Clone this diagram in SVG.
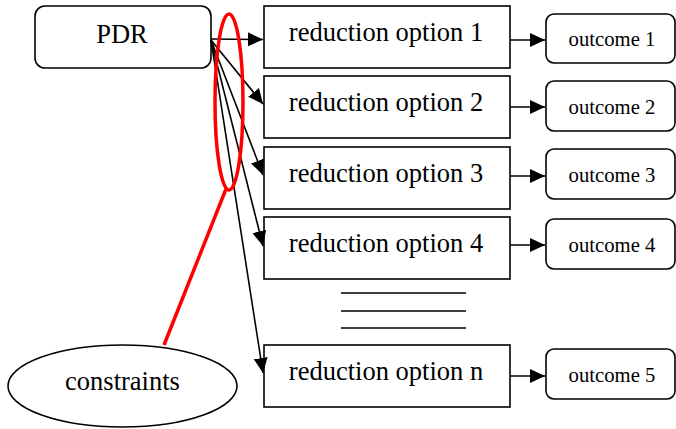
<svg xmlns="http://www.w3.org/2000/svg" width="676" height="429" viewBox="0 0 676 429">
<style>
.box{fill:#fff;stroke:#000;stroke-width:1.6}
text{font-family:'Liberation Serif','Times New Roman',Times,'DejaVu Serif',serif;fill:#000;text-anchor:middle}
.big{font-size:26.5px}
.small{font-size:20.7px}
.con{stroke:#000;stroke-width:1.6;fill:none}
.red{stroke:#ff0000;stroke-width:3.5;fill:none}
</style>
<defs>
<marker id="ah" markerUnits="userSpaceOnUse" markerWidth="16" markerHeight="16" viewBox="0 0 16 16" refX="15" refY="8" orient="auto">
<path d="M0,1 L15,8 L0,15 Z" fill="#000"/>
</marker>
</defs>
<g id="pdr"><rect class="box" x="35" y="6" width="176" height="62" rx="10"/><text class="big" x="122" y="43">PDR</text></g>
<g id="r1"><rect class="box" x="264" y="6" width="246" height="62"/><text class="big" x="386" y="41">reduction option 1</text></g>
<g id="r2"><rect class="box" x="264" y="76" width="246" height="62"/><text class="big" x="386" y="111">reduction option 2</text></g>
<g id="r3"><rect class="box" x="264" y="147" width="246" height="62"/><text class="big" x="386" y="182">reduction option 3</text></g>
<g id="r4"><rect class="box" x="264" y="217" width="246" height="62"/><text class="big" x="386" y="252">reduction option 4</text></g>
<g id="rn"><rect class="box" x="264" y="345" width="246" height="62"/><text class="big" x="386" y="380">reduction option n</text></g>
<g id="o1"><rect class="box" x="546" y="14" width="129" height="49" rx="8"/><text class="small" x="612" y="46">outcome 1</text></g>
<g id="o2"><rect class="box" x="546" y="81" width="129" height="50" rx="8"/><text class="small" x="612" y="114">outcome 2</text></g>
<g id="o3"><rect class="box" x="546" y="149" width="129" height="50" rx="8"/><text class="small" x="612" y="182">outcome 3</text></g>
<g id="o4"><rect class="box" x="546" y="219" width="129" height="50" rx="8"/><text class="small" x="612" y="252">outcome 4</text></g>
<g id="o5"><rect class="box" x="546" y="349" width="129" height="50" rx="8"/><text class="small" x="612" y="382">outcome 5</text></g>
<g id="constraints"><ellipse class="box" cx="122.5" cy="386" rx="114.5" ry="41"/><text class="big" x="122.5" y="390">constraints</text></g>
<g id="separator" class="con">
<line x1="341" y1="293" x2="466" y2="293"/>
<line x1="341" y1="311" x2="466" y2="311"/>
<line x1="341" y1="328" x2="466" y2="328"/>
</g>
<g id="connectors" class="con">
<line x1="211" y1="39" x2="263" y2="39.5" marker-end="url(#ah)"/>
<line x1="211" y1="40" x2="263" y2="104" marker-end="url(#ah)"/>
<line x1="211" y1="40" x2="263" y2="175" marker-end="url(#ah)"/>
<line x1="211" y1="40" x2="263" y2="246" marker-end="url(#ah)"/>
<line x1="211" y1="40" x2="263" y2="373" marker-end="url(#ah)"/>
<line x1="510" y1="40" x2="545" y2="40" marker-end="url(#ah)"/>
<line x1="510" y1="107" x2="545" y2="107" marker-end="url(#ah)"/>
<line x1="510" y1="176" x2="545" y2="176" marker-end="url(#ah)"/>
<line x1="510" y1="245" x2="545" y2="245" marker-end="url(#ah)"/>
<line x1="510" y1="376" x2="545" y2="376" marker-end="url(#ah)"/>
</g>
<g id="highlight">
<ellipse class="red" cx="229" cy="102" rx="14" ry="88"/>
<line class="red" x1="226" y1="189" x2="164" y2="345"/>
</g>
</svg>
